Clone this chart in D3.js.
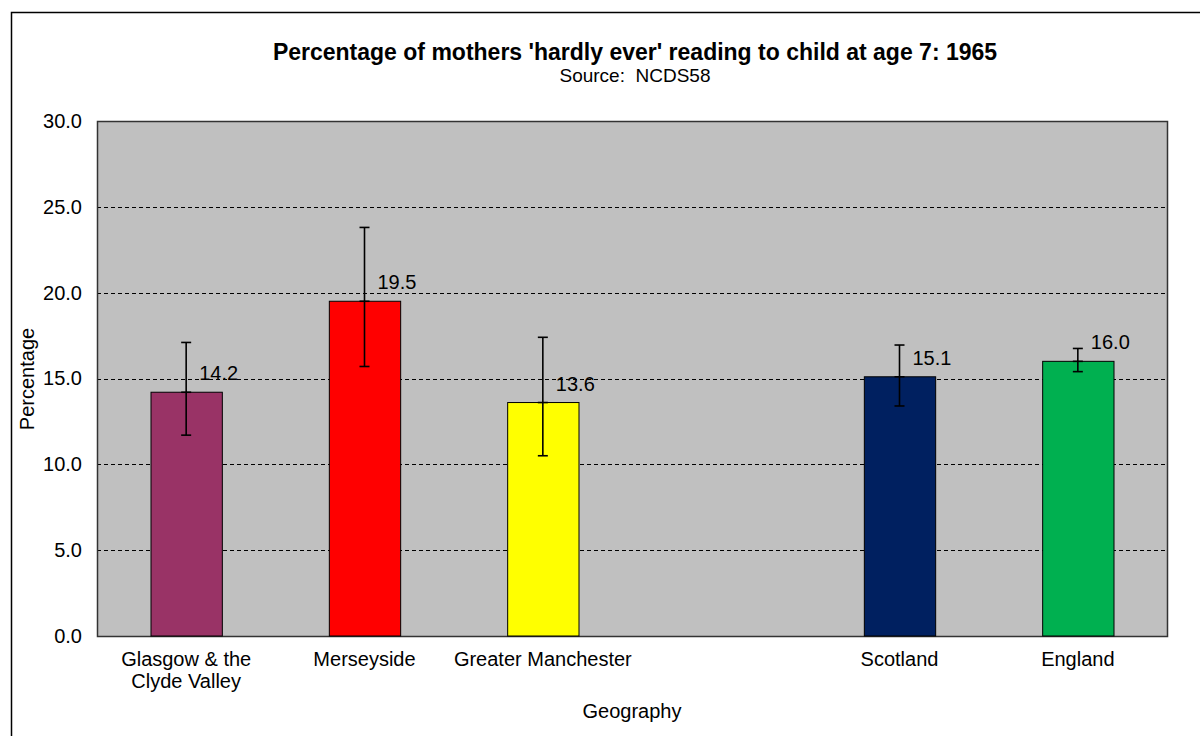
<!DOCTYPE html>
<html>
<head>
<meta charset="utf-8">
<script src="https://cdn.jsdelivr.net/npm/d3@7"></script>
<style>
  html, body { margin: 0; padding: 0; background: #fff; }
  svg { display: block; font-family: "Liberation Sans", Arial, sans-serif; }
</style>
</head>
<body>
<svg id="chart" width="1200" height="736"></svg>
<script>
// Regions (an empty slot separates the city regions from the nations)
const categories = ["Glasgow & the|Clyde Valley", "Merseyside", "Greater Manchester", "", "Scotland", "England"];
const values     = [14.2, 19.5, 13.6, null, 15.1, 16.0];
const lowerCI    = [11.7, 15.7, 10.5, null, 13.4, 15.4];
const upperCI    = [17.1, 23.8, 17.4, null, 16.95, 16.75];
const barColors  = ["#993366", "#FF0000", "#FFFF00", null, "#002060", "#00B050"];
const yTicks     = [0, 5, 10, 15, 20, 25, 30];

const svg = d3.select("#chart");

// outer chart frame
svg.append("rect")
  .attr("x", 11.5).attr("y", 12.5)
  .attr("width", 1200).attr("height", 740)
  .attr("fill", "#fff").attr("stroke", "#000").attr("stroke-width", 1.5);

const plot = { left: 97, top: 121, right: 1167, bottom: 636 };

const x = d3.scaleBand()
  .domain(d3.range(categories.length))
  .range([plot.left, plot.right])
  .paddingInner(0.6).paddingOuter(0.3);

const y = d3.scaleLinear().domain([0, 30]).range([plot.bottom, plot.top]);

// plot background
svg.append("rect")
  .attr("x", plot.left).attr("y", plot.top)
  .attr("width", plot.right - plot.left).attr("height", plot.bottom - plot.top)
  .attr("fill", "#C0C0C0");

// dashed gridlines
svg.append("g")
  .selectAll("line")
  .data(yTicks.filter(t => t > 0 && t < 30))
  .join("line")
  .attr("x1", plot.left).attr("x2", plot.right)
  .attr("y1", d => Math.round(y(d)) + 0.5).attr("y2", d => Math.round(y(d)) + 0.5)
  .attr("stroke", "#000").attr("stroke-width", 1)
  .attr("stroke-dasharray", "4,3");

// plot border
svg.append("rect")
  .attr("x", plot.left + 0.5).attr("y", plot.top + 0.5)
  .attr("width", plot.right - plot.left).attr("height", plot.bottom - plot.top)
  .attr("fill", "none").attr("stroke", "#333").attr("stroke-width", 1.5);

// y axis labels
const yAxis = d3.axisLeft(y).tickValues(yTicks).tickFormat(d3.format(".1f")).tickSize(0).tickPadding(15);
const gy = svg.append("g").attr("transform", `translate(${plot.left},0)`).call(yAxis);
gy.select(".domain").remove();
gy.selectAll("text").attr("font-size", 20).attr("fill", "#000")
  .attr("font-family", "Liberation Sans, Arial, sans-serif");

const idx = d3.range(categories.length).filter(i => values[i] !== null);

// bars
svg.append("g")
  .selectAll("rect")
  .data(idx)
  .join("rect")
  .attr("x", i => x(i) + 0.5)
  .attr("y", i => y(values[i]))
  .attr("width", x.bandwidth())
  .attr("height", i => y(0) - y(values[i]))
  .attr("fill", i => barColors[i])
  .attr("stroke", "#000").attr("stroke-width", 1);

// error bars
const eb = svg.append("g").attr("stroke", "#000").attr("stroke-width", 1.6);
idx.forEach(i => {
  const cx = x(i) + x.bandwidth() / 2;
  eb.append("line").attr("x1", cx).attr("x2", cx).attr("y1", y(upperCI[i])).attr("y2", y(lowerCI[i]));
  [upperCI[i], lowerCI[i], values[i]].forEach(v => {
    eb.append("line").attr("x1", cx - 5).attr("x2", cx + 5).attr("y1", y(v)).attr("y2", y(v));
  });
});

// value labels
svg.append("g")
  .selectAll("text")
  .data(idx)
  .join("text")
  .attr("x", i => x(i) + x.bandwidth() / 2 + 13)
  .attr("y", i => y(values[i]) - 12)
  .attr("font-size", 20).attr("fill", "#000")
  .text(i => d3.format(".1f")(values[i]));

// category labels
const cat = svg.append("g");
categories.forEach((c, i) => {
  if (!c) return;
  const t = cat.append("text")
    .attr("x", x(i) + x.bandwidth() / 2)
    .attr("y", 666)
    .attr("text-anchor", "middle")
    .attr("font-size", 20).attr("fill", "#000");
  c.split("|").forEach((line, k) => {
    t.append("tspan").attr("x", x(i) + x.bandwidth() / 2).attr("dy", k === 0 ? 0 : 22).text(line);
  });
});

// titles
svg.append("text")
  .attr("x", 635).attr("y", 60).attr("text-anchor", "middle")
  .attr("font-size", 23).attr("font-weight", "bold").attr("fill", "#000")
  .text("Percentage of mothers 'hardly ever' reading to child at age 7: 1965");
svg.append("text")
  .attr("x", 635).attr("y", 82).attr("text-anchor", "middle")
  .attr("font-size", 19).attr("fill", "#000")
  .attr("xml:space", "preserve")
  .text("Source:  NCDS58");

svg.append("text")
  .attr("x", 632).attr("y", 718).attr("text-anchor", "middle")
  .attr("font-size", 20).attr("fill", "#000")
  .text("Geography");

svg.append("text")
  .attr("transform", "translate(34,379) rotate(-90)")
  .attr("text-anchor", "middle")
  .attr("font-size", 20).attr("fill", "#000")
  .text("Percentage");
</script>
</body>
</html>
